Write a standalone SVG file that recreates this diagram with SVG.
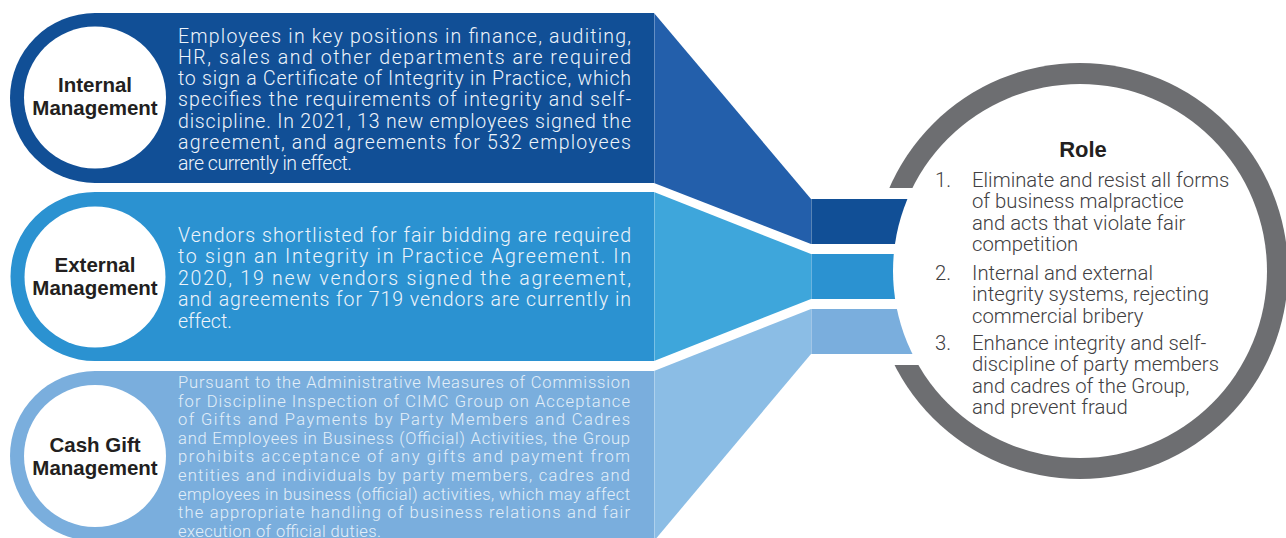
<svg xmlns="http://www.w3.org/2000/svg" width="1286" height="538" viewBox="0 0 1286 538">
<style>
.lbl{font-family:"Liberation Sans",Arial,sans-serif;font-weight:bold;font-size:20.5px;fill:#231f20;text-anchor:middle}
.body{font-family:Roboto,"Liberation Sans",Arial,sans-serif;font-weight:300;font-size:19.5px;fill:#eef4fb}
.small{font-family:Roboto,"Liberation Sans",Arial,sans-serif;font-weight:300;font-size:16.5px;fill:#e3eef9}
.role{font-family:Roboto,"Liberation Sans",Arial,sans-serif;font-weight:300;font-size:20.3px;fill:#414042}
.title{font-family:"Liberation Sans",Arial,sans-serif;font-weight:bold;font-size:22px;fill:#231f20;text-anchor:middle}
.sep{stroke:#ffffff;stroke-opacity:0.3;stroke-width:1}
</style>
<rect width="1286" height="538" fill="#ffffff"/>

<g id="role-ring">
  <circle cx="1080" cy="271" r="208" fill="#6d6e71"/>
  <rect x="850" y="188" width="100" height="177" fill="#ffffff"/>
</g>

<g id="connectors">
  <polygon points="654,13 811,199 811,244 654,183" fill="#235fab"/>
  <polygon points="654,192 811,254 811,299 654,361" fill="#3ea6db"/>
  <polygon points="654,371 811,309 811,354 654,541" fill="#8bbde5"/>
  <rect x="811" y="199" width="110" height="45" fill="#114f96"/>
  <rect x="811" y="254" width="110" height="45" fill="#2b92d1"/>
  <rect x="811" y="309" width="110" height="45" fill="#7aaedd"/>
  <line class="sep" x1="654.5" y1="13" x2="654.5" y2="183"/>
  <line class="sep" x1="654.5" y1="192" x2="654.5" y2="361"/>
  <line class="sep" x1="654.5" y1="371" x2="654.5" y2="538"/>
  <line class="sep" x1="811.5" y1="199" x2="811.5" y2="244"/>
  <line class="sep" x1="811.5" y1="254" x2="811.5" y2="299"/>
  <line class="sep" x1="811.5" y1="309" x2="811.5" y2="354"/>
</g>

<g id="internal">
  <path d="M95,13 H654 V183 H95 A85,85 0 0 1 95,13 Z" fill="#114f96"/>
  <circle cx="95" cy="97.5" r="71" fill="#ffffff"/>
  <text class="lbl" x="95" y="92">Internal</text>
  <text class="lbl" x="95" y="115">Management</text>
  <text class="body" x="178" y="42.5" textLength="453" lengthAdjust="spacing">Employees in key positions in finance, auditing,</text>
  <text class="body" x="178" y="63.7" textLength="453" lengthAdjust="spacing">HR, sales and other departments are required</text>
  <text class="body" x="178" y="85" textLength="453" lengthAdjust="spacing">to sign a Certificate of Integrity in Practice, which</text>
  <text class="body" x="178" y="106.2" textLength="453" lengthAdjust="spacing">specifies the requirements of integrity and self-</text>
  <text class="body" x="178" y="127.5" textLength="453" lengthAdjust="spacing">discipline. In 2021, 13 new employees signed the</text>
  <text class="body" x="178" y="148.7" textLength="453" lengthAdjust="spacing">agreement, and agreements for 532 employees</text>
  <text class="body" x="178" y="170" textLength="174" lengthAdjust="spacing">are currently in effect.</text>
</g>

<g id="external">
  <path d="M95,192 H654 V361 H95 A84.5,84.5 0 0 1 95,192 Z" fill="#2b92d1"/>
  <circle cx="95" cy="277" r="70.5" fill="#ffffff"/>
  <text class="lbl" x="95" y="272">External</text>
  <text class="lbl" x="95" y="295">Management</text>
  <text class="body" x="178" y="242" textLength="453" lengthAdjust="spacing">Vendors shortlisted for fair bidding are required</text>
  <text class="body" x="178" y="263.4" textLength="453" lengthAdjust="spacing">to sign an Integrity in Practice Agreement. In</text>
  <text class="body" x="178" y="284.8" textLength="453" lengthAdjust="spacing">2020, 19 new vendors signed the agreement,</text>
  <text class="body" x="178" y="306.2" textLength="453" lengthAdjust="spacing">and agreements for 719 vendors are currently in</text>
  <text class="body" x="178" y="327.6">effect.</text>
</g>

<g id="cashgift">
  <path d="M95,371 H654 V541 H95 A85,85 0 0 1 95,371 Z" fill="#7aaedd"/>
  <circle cx="95" cy="456" r="71" fill="#ffffff"/>
  <text class="lbl" x="95" y="452">Cash Gift</text>
  <text class="lbl" x="95" y="475">Management</text>
  <text class="small" x="178" y="388" textLength="452" lengthAdjust="spacing">Pursuant to the Administrative Measures of Commission</text>
  <text class="small" x="178" y="406.6" textLength="452" lengthAdjust="spacing">for Discipline Inspection of CIMC Group on Acceptance</text>
  <text class="small" x="178" y="425.2" textLength="452" lengthAdjust="spacing">of Gifts and Payments by Party Members and Cadres</text>
  <text class="small" x="178" y="443.8" textLength="452" lengthAdjust="spacing">and Employees in Business (Official) Activities, the Group</text>
  <text class="small" x="178" y="462.4" textLength="452" lengthAdjust="spacing">prohibits acceptance of any gifts and payment from</text>
  <text class="small" x="178" y="481" textLength="452" lengthAdjust="spacing">entities and individuals by party members, cadres and</text>
  <text class="small" x="178" y="499.6" textLength="452" lengthAdjust="spacing">employees in business (official) activities, which may affect</text>
  <text class="small" x="178" y="518.2" textLength="452" lengthAdjust="spacing">the appropriate handling of business relations and fair</text>
  <text class="small" x="178" y="536.8" textLength="203" lengthAdjust="spacing">execution of official duties.</text>
</g>

<g id="role">
  <circle cx="1080" cy="271" r="187" fill="#ffffff"/>
  <text class="title" x="1083" y="157">Role</text>
  <text class="role" x="935" y="187">1.</text>
  <text class="role" x="972" y="187">Eliminate and resist all forms</text>
  <text class="role" x="972" y="208.3">of business malpractice</text>
  <text class="role" x="972" y="229.6">and acts that violate fair</text>
  <text class="role" x="972" y="250.9">competition</text>
  <text class="role" x="935" y="280">2.</text>
  <text class="role" x="972" y="280">Internal and external</text>
  <text class="role" x="972" y="301.3">integrity systems, rejecting</text>
  <text class="role" x="972" y="322.6">commercial bribery</text>
  <text class="role" x="935" y="350">3.</text>
  <text class="role" x="972" y="350">Enhance integrity and self-</text>
  <text class="role" x="972" y="371.3">discipline of party members</text>
  <text class="role" x="972" y="392.6">and cadres of the Group,</text>
  <text class="role" x="972" y="413.9">and prevent fraud</text>
</g>
</svg>
